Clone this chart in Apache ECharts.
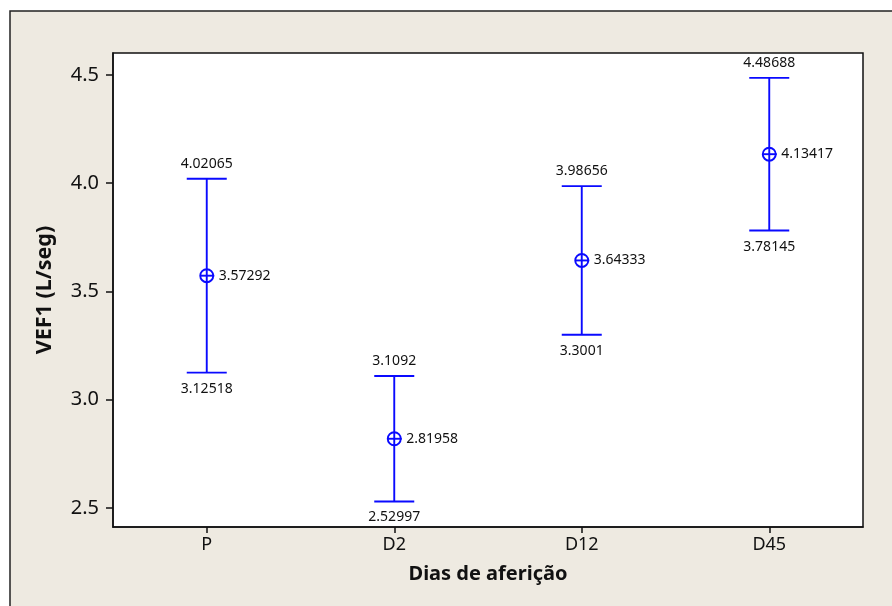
<!DOCTYPE html>
<html>
<head>
<meta charset="utf-8">
<script src="https://cdn.jsdelivr.net/npm/echarts@6/dist/echarts.min.js"></script>
<style>
html,body{margin:0;padding:0;background:#ffffff;}
#chart{width:892px;height:606px;}
</style>
</head>
<body>
<div id="chart"></div>
<script>
const categories = ['P', 'D2', 'D12', 'D45'];
const means = [3.57292, 2.81958, 3.64333, 4.13417];
const lowers = [3.12518, 2.52997, 3.3001, 3.78145];
const uppers = [4.02065, 3.1092, 3.98656, 4.48688];
const yTicks = [2.5, 3.0, 3.5, 4.0, 4.5];

const FONT = 'Noto Sans';
const BLUE = '#0a0aff';

const data = categories.map((c, i) => [i, means[i], lowers[i], uppers[i]]);

function renderItem(params, api) {
  const x = api.value(0);
  const pm = api.coord([x, api.value(1)]);
  const pl = api.coord([x, api.value(2)]);
  const pu = api.coord([x, api.value(3)]);
  const cx = pm[0];
  const hw = 20;
  const r = 6.5;
  const ls = { stroke: BLUE, lineWidth: 1.9 };
  const fmt = v => String(v);
  return {
    type: 'group',
    children: [
      { type: 'line', shape: { x1: cx, y1: pu[1], x2: cx, y2: pl[1] }, style: ls },
      { type: 'line', shape: { x1: cx - hw, y1: pu[1], x2: cx + hw, y2: pu[1] }, style: ls },
      { type: 'line', shape: { x1: cx - hw, y1: pl[1], x2: cx + hw, y2: pl[1] }, style: ls },
      { type: 'circle', shape: { cx: cx, cy: pm[1], r: r }, style: { fill: '#ffffff', stroke: BLUE, lineWidth: 1.9 } },
      { type: 'line', shape: { x1: cx - r, y1: pm[1], x2: cx + r + 1, y2: pm[1] }, style: ls },
      { type: 'line', shape: { x1: cx, y1: pm[1] - r, x2: cx, y2: pm[1] + r }, style: ls },
      { type: 'text', x: cx, y: pu[1] - 15, style: { text: fmt(api.value(3)), fill: '#111', font: '14px "' + FONT + '"', align: 'center', verticalAlign: 'middle' } },
      { type: 'text', x: cx, y: pl[1] + 16, style: { text: fmt(api.value(2)), fill: '#111', font: '14px "' + FONT + '"', align: 'center', verticalAlign: 'middle' } },
      { type: 'text', x: cx + 12, y: pm[1], style: { text: fmt(api.value(1)), fill: '#111', font: '14px "' + FONT + '"', align: 'left', verticalAlign: 'middle' } }
    ]
  };
}

const chart = echarts.init(document.getElementById('chart'), null, { renderer: 'canvas' });
chart.setOption({
  animation: false,
  backgroundColor: '#ffffff',
  graphic: [{
    type: 'rect',
    z: -100,
    shape: { x: 10, y: 11, width: 900, height: 620 },
    style: { fill: '#eeeae1', stroke: '#222', lineWidth: 1.5 }
  }],
  grid: {
    left: 113, top: 53, right: 29, bottom: 79,
    show: true, backgroundColor: '#ffffff', borderColor: '#111', borderWidth: 1.5
  },
  xAxis: {
    type: 'category',
    data: categories,
    boundaryGap: true,
    name: 'Dias de aferição',
    nameLocation: 'middle',
    nameGap: 37,
    nameTextStyle: { fontFamily: FONT, fontWeight: 'bold', fontSize: 20, color: '#111' },
    axisLine: { show: true, lineStyle: { color: '#111', width: 1.5 } },
    axisTick: { show: true, alignWithLabel: true, length: 6, lineStyle: { color: '#111', width: 1.5 } },
    axisLabel: { fontFamily: FONT, fontSize: 18, color: '#111', margin: 9 },
    splitLine: { show: false }
  },
  yAxis: {
    type: 'value',
    min: 2.412,
    max: 4.6016,
    name: 'VEF1 (L/seg)',
    nameLocation: 'middle',
    nameGap: 57,
    nameTextStyle: { fontFamily: FONT, fontWeight: 'bold', fontSize: 21.5, color: '#111' },
    axisLine: { show: true, lineStyle: { color: '#111', width: 1.5 } },
    axisTick: { show: true, length: 7, customValues: yTicks, lineStyle: { color: '#111', width: 1.5 } },
    axisLabel: { fontFamily: FONT, fontSize: 20, color: '#111', margin: 14, customValues: yTicks, formatter: v => v.toFixed(1) },
    splitLine: { show: false }
  },
  series: [{
    type: 'custom',
    renderItem: renderItem,
    encode: { x: 0, y: [1, 2, 3] },
    data: data,
    clip: false
  }]
});
</script>
</body>
</html>
